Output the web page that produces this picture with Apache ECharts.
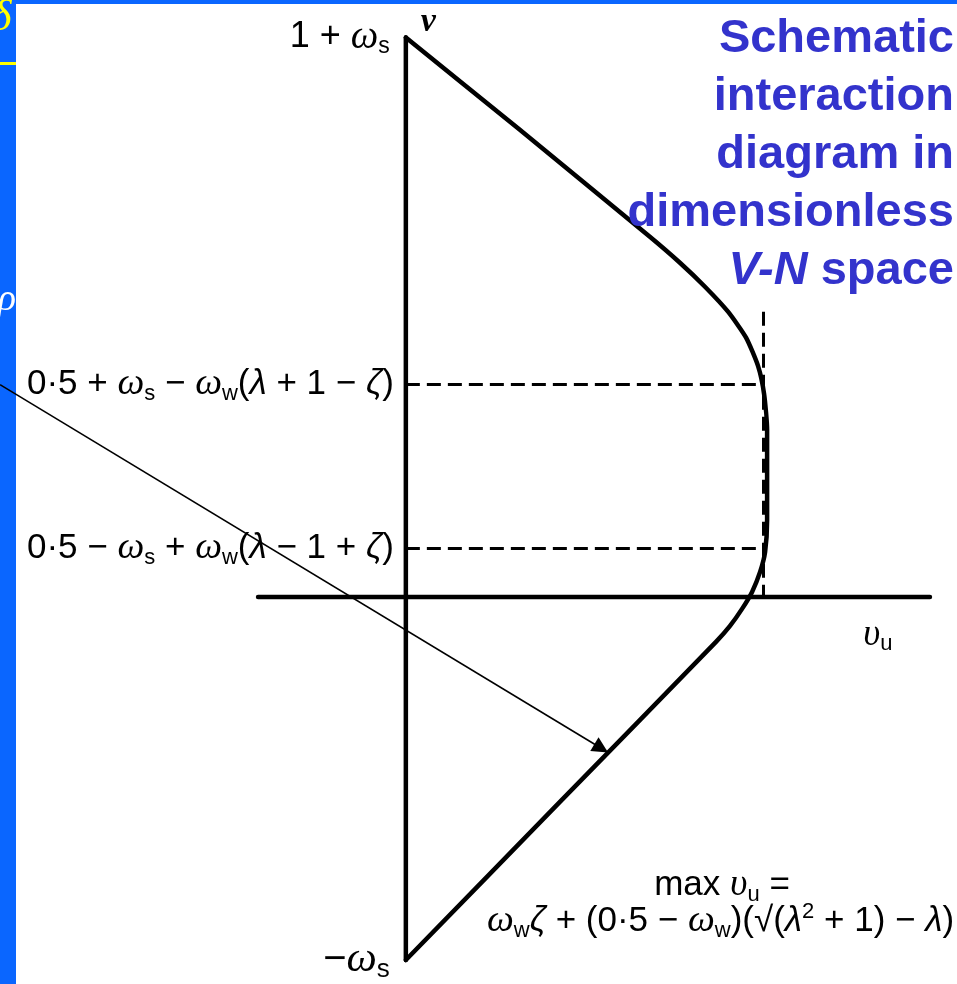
<!DOCTYPE html>
<html>
<head>
<meta charset="utf-8">
<title>Interaction diagram in V-N space</title>
<script src="https://cdn.jsdelivr.net/npm/echarts@6/dist/echarts.min.js"></script>
<style>
  html, body { margin: 0; padding: 0; background: #fff; }
  #chart { width: 957px; height: 984px; }
</style>
</head>
<body>
<div id="chart"></div>
<script>
// ---- Diagram data (dimensionless v against v_u) ----
// Envelope from the apex 1 + ω_s, round the nose at max v_u, down to −ω_s
const envelope = [
  [0, 1.12], [0.2275, 0.935], [0.487, 0.721], [0.547, 0.669],
  [0.597, 0.621], [0.643, 0.571], [0.679, 0.519], [0.703, 0.462],
  [0.715, 0.406], [0.721, 0.334], [0.721, 0.154], [0.717, 0.090],
  [0.707, 0.050], [0.691, 0.010], [0.671, -0.024], [0.647, -0.058],
  [0.619, -0.090], [0.307, -0.411], [0, -0.727]
];
// The v axis closes the envelope on the left
const vAxis = [[0, -0.727], [0, 1.12]];
// Horizontal (v_u) axis
const horizontalAxis = [[-0.295, 0], [1.046, 0]];
// Levels of v marked on the vertical axis
const levelValues = [1.12, 0.426, 0.098, -0.727];
const levelTexts = ['1 + ω_s', '0·5 + ω_s − ω_w(λ + 1 − ζ)', '0·5 − ω_s + ω_w(λ − 1 + ζ)', '−ω_s'];
const levelSizes = [36, 35, 35, 40];
// Maximum v_u and the top of its guide line
const maxHorizontal = 0.714;
const maxGuideTop = 0.571;
// Pointer from the margin to the lower branch
const pointer = [[-0.81, 0.425], [0.39, -0.303]];
// Text blocks
const titleLines = ['Schematic', 'interaction', 'diagram in', 'dimensionless', '{i|V-N} space'];
const maxFormula = ['max υ_u =', 'ω_wζ + (0·5 − ω_w)(√(λ^2 + 1) − λ)'];

const SANS = '"Liberation Sans", Arial, sans-serif';
const SERIF = '"Liberation Serif", "Times New Roman", serif';
const INK = '#000000';
const SLIDE_BLUE = '#0A66FF';
const TITLE_BLUE = '#3333CC';

// Rich-text styles: m = main, g = Greek italic, k = Greek upright, s = subscript, p = superscript
function richSet(size, colorKey) {
  const c = { [colorKey]: INK };
  const small = Math.round(size * 0.64);
  const smallLH = Math.round(size * 0.46);
  return {
    m: Object.assign({ fontFamily: SANS, fontSize: size, lineHeight: size + 6 }, c),
    g: Object.assign({ fontFamily: SERIF, fontStyle: 'italic', fontSize: size + 3, lineHeight: size + 6 }, c),
    k: Object.assign({ fontFamily: SANS, fontStyle: 'italic', fontSize: size, lineHeight: size + 6 }, c),
    s: Object.assign({ fontFamily: SANS, fontSize: small, lineHeight: smallLH, verticalAlign: 'bottom' }, c),
    p: Object.assign({ fontFamily: SANS, fontSize: small, lineHeight: smallLH, verticalAlign: 'top' }, c)
  };
}

// Turn "ω_s", "λ^2" style notation into rich-text markup
const GREEK_ROUND = 'ωυνρδ';
const GREEK_PLAIN = 'λζ';
function toRich(expr) {
  let out = '', buf = '';
  const flush = () => { if (buf) { out += '{m|' + buf + '}'; buf = ''; } };
  for (let i = 0; i < expr.length; i++) {
    const ch = expr[i];
    if (ch === '_' || ch === '^') {
      flush();
      out += '{' + (ch === '_' ? 's' : 'p') + '|' + expr[++i] + '}';
    } else if (GREEK_ROUND.indexOf(ch) >= 0) {
      flush();
      out += '{g|' + ch + '}';
    } else if (GREEK_PLAIN.indexOf(ch) >= 0) {
      flush();
      out += '{k|' + ch + '}';
    } else {
      buf += ch;
    }
  }
  flush();
  return out;
}

const lineBase = { symbol: 'none', silent: true, animation: false };
const heavy = { color: INK, width: 4.5, cap: 'round', join: 'miter' };

const levelLabelData = levelValues.map((v, i) => ({
  value: [0, v],
  label: {
    show: true,
    position: 'left',
    distance: (i === 0 || i === 3) ? 16 : 12,
    formatter: toRich(levelTexts[i]),
    rich: richSet(levelSizes[i], 'color')
  }
}));

const axisNameData = [
  {
    value: [0, levelValues[0]],
    label: {
      show: true, position: 'right', distance: 5, offset: [10, -15],
      formatter: 'ν', fontFamily: SERIF, fontStyle: 'italic', fontWeight: 'bold',
      fontSize: 34, color: INK
    }
  },
  {
    value: horizontalAxis[1],
    label: {
      show: true, position: 'bottom', distance: 5, offset: [-52, 13],
      formatter: toRich('υ_u'), rich: richSet(34, 'color')
    }
  }
];

const chart = echarts.init(document.getElementById('chart'), null, { renderer: 'canvas' });

chart.setOption({
  backgroundColor: '#ffffff',
  animation: false,
  grid: { left: 0, right: 0, top: 0, bottom: 0 },
  xAxis: { type: 'value', min: -0.81, max: 1.1, show: false },
  yAxis: { type: 'value', min: -0.775, max: 1.195, show: false },
  graphic: [
    // slide frame: left strip and top bar
    { type: 'rect', z: 0, shape: { x: 0, y: 0, width: 16, height: 984 }, style: { fill: SLIDE_BLUE } },
    { type: 'rect', z: 0, shape: { x: 0, y: 0, width: 957, height: 4 }, style: { fill: SLIDE_BLUE } },
    {
      type: 'text', z: 1, x: -9, y: 18,
      style: { text: 'δ', font: 'italic 44px ' + SERIF, fill: '#FFFF00', align: 'left', verticalAlign: 'middle' }
    },
    { type: 'rect', z: 1, shape: { x: 16, y: 4, width: 40, height: 56 }, style: { fill: '#ffffff' } },
    { type: 'rect', z: 1, shape: { x: 0, y: 62, width: 16, height: 3 }, style: { fill: '#FFFF00' } },
    {
      type: 'text', z: 1, x: 16, y: 300,
      style: { text: 'ρ', font: 'italic 38px ' + SERIF, fill: '#ffffff', align: 'right', verticalAlign: 'middle' }
    },
    // title block
    {
      type: 'text', z: 100, x: 954, y: 10,
      style: {
        text: titleLines.join('\n'),
        font: 'bold 47px ' + SANS,
        fill: TITLE_BLUE,
        align: 'right',
        verticalAlign: 'top',
        lineHeight: 58,
        rich: {
          i: { fontFamily: SANS, fontSize: 47, fontWeight: 'bold', fontStyle: 'italic', fill: TITLE_BLUE, lineHeight: 58 }
        }
      }
    },
    // expression for max v_u
    {
      type: 'text', z: 50, x: 722, y: 885,
      style: { text: toRich(maxFormula[0]), rich: richSet(35, 'fill'), align: 'center', verticalAlign: 'middle' }
    },
    {
      type: 'text', z: 50, x: 487, y: 921,
      style: { text: toRich(maxFormula[1]), rich: richSet(35, 'fill'), align: 'left', verticalAlign: 'middle' }
    }
  ],
  series: [
    Object.assign({ type: 'line', data: vAxis, lineStyle: heavy }, lineBase),
    Object.assign({ type: 'line', data: envelope, smooth: 0.2, lineStyle: heavy }, lineBase),
    Object.assign({ type: 'line', data: horizontalAxis, lineStyle: heavy }, lineBase),
    {
      type: 'lines',
      coordinateSystem: 'cartesian2d',
      silent: true,
      symbol: ['none', 'none'],
      lineStyle: { color: INK, width: 3, opacity: 1, type: [14, 7] },
      data: [
        { coords: [[0, levelValues[1]], [maxHorizontal, levelValues[1]]] },
        { coords: [[0, levelValues[2]], [maxHorizontal, levelValues[2]]] },
        { coords: [[maxHorizontal, maxGuideTop], [maxHorizontal, 0]] }
      ]
    },
    {
      type: 'lines',
      coordinateSystem: 'cartesian2d',
      silent: true,
      symbol: ['none', 'triangle'],
      symbolSize: 16,
      lineStyle: { color: INK, width: 1.6, opacity: 1 },
      itemStyle: { color: INK },
      data: [{ coords: pointer }]
    },
    {
      type: 'scatter', silent: true, symbolSize: 0, z: 5,
      itemStyle: { opacity: 1 },
      data: levelLabelData
    },
    {
      type: 'scatter', silent: true, symbolSize: 0, z: 5,
      itemStyle: { opacity: 1 },
      data: axisNameData
    }
  ]
});
</script>
</body>
</html>
